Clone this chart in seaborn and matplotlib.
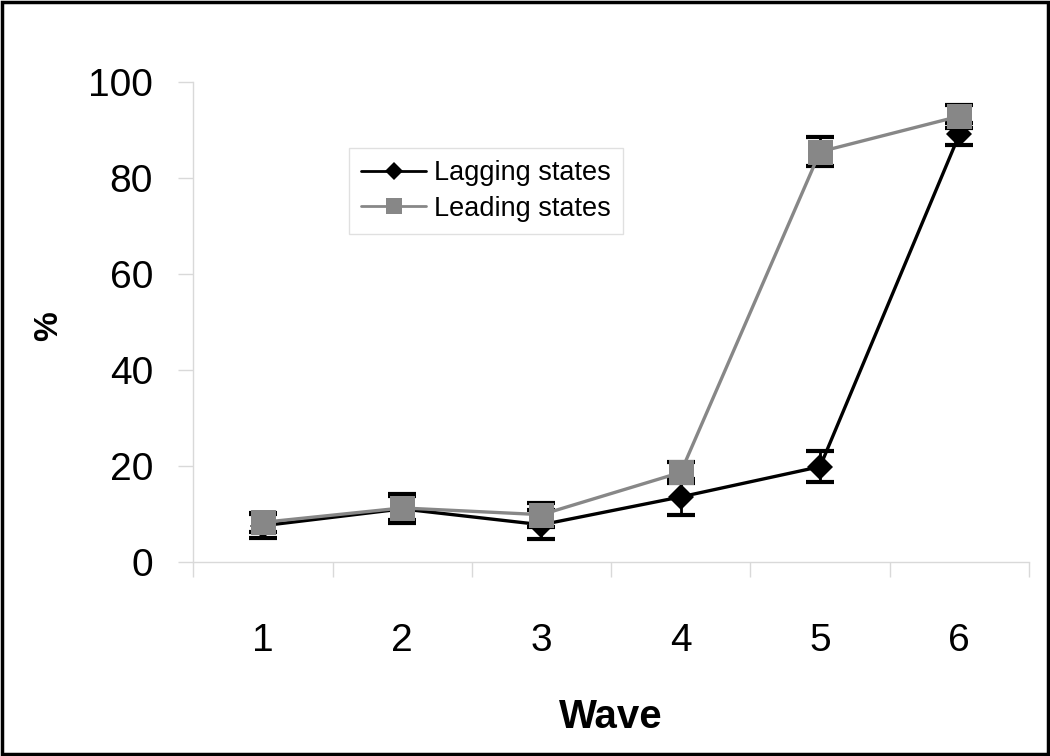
import numpy as np
import pandas as pd
import matplotlib
matplotlib.use('Agg')
import matplotlib.pyplot as plt
from matplotlib.patches import Rectangle
import seaborn as sns

sns.set_style('white')
plt.rcParams['font.family'] = ['Liberation Sans', 'DejaVu Sans']
plt.rcParams['text.color'] = 'black'
plt.rcParams['axes.labelcolor'] = 'black'
plt.rcParams['xtick.labelcolor'] = 'black'
plt.rcParams['ytick.labelcolor'] = 'black'

waves = [1, 2, 3, 4, 5, 6]
lagging = [7.5, 11.0, 7.7, 13.5, 19.8, 89.0]
lagging_err = [2.5, 3.0, 3.0, 3.7, 3.2, 2.3]
leading = [8.2, 11.2, 9.8, 18.6, 85.4, 92.8]
leading_err = [2.0, 2.5, 2.5, 2.2, 3.0, 2.4]
groups = ['Lagging states', 'Leading states']

df = pd.DataFrame({
    'Wave': waves * 2,
    'Percent': lagging + leading,
    'Group': [groups[0]] * len(waves) + [groups[1]] * len(waves),
})

fig = plt.figure(figsize=(10.5, 7.56), dpi=100)
ax = fig.add_axes([0.184, 0.257, 0.796, 0.635])

# error bars (all black) under the markers
ax.errorbar(waves, lagging, yerr=lagging_err, fmt='none', ecolor='black',
            elinewidth=2, capsize=10, capthick=3, zorder=1)
ax.errorbar(waves, leading, yerr=leading_err, fmt='none', ecolor='black',
            elinewidth=2, capsize=10, capthick=3, zorder=1)

sns.lineplot(data=df, x='Wave', y='Percent', hue='Group', style='Group',
             palette={groups[0]: 'black', groups[1]: '#878787'},
             markers={groups[0]: 'D', groups[1]: 's'}, dashes=False,
             linewidth=2.4, ax=ax, zorder=3, legend=False)
lines = ax.get_lines()[-2:]
lines[0].set_markersize(13)
lines[0].set_markeredgewidth(0)
lines[1].set_markersize(18)
lines[1].set_markeredgewidth(0)

handles = [
    plt.Line2D([], [], color='black', lw=2, marker='D', markersize=9, markeredgewidth=0),
    plt.Line2D([], [], color='#878787', lw=2, marker='s', markersize=11, markeredgewidth=0),
]
leg = ax.legend(handles, groups, loc='upper left', bbox_to_anchor=(0.17, 0.89),
                frameon=True, fancybox=False, fontsize=19.5, handlelength=2.4,
                handletextpad=0.3, borderpad=0.45, labelspacing=0.35)
leg.get_frame().set_edgecolor('#d9d9d9')
leg.get_frame().set_linewidth(1)

ax.set_xlim(0.5, 6.5)
ax.set_ylim(0, 100)
ax.set_xticks(waves)
ax.set_xticks(np.arange(0.5, 7, 1), minor=True)
ax.set_yticks(range(0, 101, 20))
ax.tick_params(axis='x', which='major', length=0, pad=44, labelsize=28)
ax.tick_params(axis='x', which='minor', length=11, width=1, color='#d9d9d9', direction='out')
ax.tick_params(axis='y', length=11, width=1, color='#d9d9d9', direction='out', pad=18, labelsize=28)
ax.xaxis.set_ticks_position('bottom')
ax.yaxis.set_ticks_position('left')

for side in ['top', 'right']:
    ax.spines[side].set_visible(False)
for side in ['left', 'bottom']:
    ax.spines[side].set_color('#d9d9d9')
    ax.spines[side].set_linewidth(1)

ax.set_xlabel('Wave', fontsize=29, fontweight='bold', labelpad=28)
ax.set_ylabel('%', fontsize=24, fontweight='bold')
ax.yaxis.set_label_coords(-0.155, 0.49)

fig.patches.append(Rectangle((0.002, 0.003), 0.996, 0.994, transform=fig.transFigure,
                             fill=False, edgecolor='black', linewidth=2.5))

fig.savefig('out.png', dpi=100)
